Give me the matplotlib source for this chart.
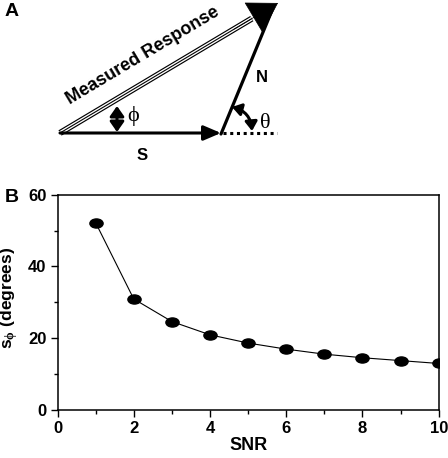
import matplotlib
matplotlib.use('Agg')
import matplotlib.pyplot as plt
from matplotlib.path import Path
from matplotlib.transforms import Affine2D
from matplotlib.ticker import MultipleLocator

plt.rcParams['font.family'] = ['Liberation Sans', 'DejaVu Sans']
plt.rcParams['font.weight'] = 'bold'
plt.rcParams['mathtext.fontset'] = 'custom'
plt.rcParams['mathtext.rm'] = 'Liberation Serif'
plt.rcParams['mathtext.it'] = 'Liberation Serif'

# panel B data
snr = [1, 2, 3, 4, 5, 6, 7, 8, 9, 10]
s_phi = [52.2, 30.9, 24.6, 20.9, 18.6, 16.9, 15.5, 14.5, 13.7, 12.9]
x_ticks = [0, 2, 4, 6, 8, 10]
y_ticks = [0, 20, 40, 60]

fig = plt.figure(figsize=(4.48, 4.58), dpi=100)

# ---- panel A: vector diagram, drawn in pixel-like coords ----
axa = fig.add_axes([0, 1 - 170 / 458, 1, 170 / 458])
axa.set_xlim(0, 448)
axa.set_ylim(170, 0)
axa.axis('off')

origin = (60, 133)
s_tip = (221, 133)
r_tip = (278, 3)

# S vector
axa.annotate('', xy=s_tip, xytext=origin,
             arrowprops=dict(arrowstyle='-|>,head_length=0.75,head_width=0.32',
                             lw=2.2, color='black', mutation_scale=14,
                             shrinkA=0, shrinkB=0))
# dotted continuation
axa.plot([223, 277], [133, 133], color='black', lw=2.2, ls=(0, (1, 1.2)),
         solid_capstyle='butt')
# N vector
axa.annotate('', xy=(273, 8), xytext=(221, 134),
             arrowprops=dict(arrowstyle='-', lw=2.3, color='black',
                             shrinkA=0, shrinkB=0))

# measured response: triple line + big head
dx, dy = r_tip[0] - origin[0], r_tip[1] - origin[1]
frac = 0.88
end = (origin[0] + dx * frac, origin[1] + dy * frac)
axa.plot([origin[0], end[0]], [origin[1], end[1]], color='black', lw=4.4,
         solid_capstyle='butt')
axa.plot([origin[0], end[0]], [origin[1], end[1]], color='white', lw=2.7,
         solid_capstyle='butt')
axa.plot([origin[0], end[0]], [origin[1], end[1]], color='black', lw=0.8,
         solid_capstyle='butt')
axa.annotate('', xy=r_tip, xytext=(origin[0] + dx * 0.8, origin[1] + dy * 0.8),
             arrowprops=dict(arrowstyle='-|>,head_length=0.9,head_width=0.55',
                             lw=0.5, color='black', mutation_scale=22,
                             shrinkA=0, shrinkB=0))

# phi double arrow
axa.annotate('', xy=(117, 106), xytext=(117, 132),
             arrowprops=dict(arrowstyle='<|-|>,head_length=0.5,head_width=0.35',
                             lw=2.2, color='black', mutation_scale=12,
                             shrinkA=0, shrinkB=0))
# theta curved double arrow
axa.annotate('', xy=(252, 131), xytext=(232, 107),
             arrowprops=dict(arrowstyle='<|-|>,head_length=0.45,head_width=0.3',
                             lw=2.2, color='black', mutation_scale=12,
                             shrinkA=0, shrinkB=0,
                             connectionstyle='arc3,rad=-0.35'))

axa.text(143, 56, 'Measured Response', fontsize=13, fontweight='bold',
         rotation=30.9, rotation_mode='anchor', ha='center', va='center')
axa.text(262, 78, 'N', fontsize=12, fontweight='bold', ha='center', va='center')
axa.text(142, 156, 'S', fontsize=12, fontweight='bold', ha='center', va='center')
axa.text(127, 116, '\u03d5', fontsize=16, family=['Liberation Serif', 'DejaVu Serif'],
         fontweight='normal', ha='left', va='center')
axa.text(260, 123, 'θ', fontsize=16, family='Liberation Serif',
         fontweight='normal', ha='left', va='center')
axa.text(5, 12, 'A', fontsize=14, fontweight='bold', ha='left', va='center')

# ---- panel B: s_phi vs SNR ----
axb = fig.add_axes([57.5 / 448, 48.3 / 458, 381.2 / 448, 215 / 458])
ellipse = Path.unit_circle().transformed(Affine2D().scale(1.45, 1.0))
axb.plot(snr, s_phi, color='black', lw=0.8, marker=ellipse, markersize=9.5,
         markerfacecolor='black', markeredgecolor='black')
axb.set_xlim(0, 10)
axb.set_ylim(0, 60)
axb.set_xticks(x_ticks)
axb.set_yticks(y_ticks)
axb.xaxis.set_minor_locator(MultipleLocator(1))
axb.yaxis.set_minor_locator(MultipleLocator(10))
axb.tick_params(which='both', direction='out', labelsize=12, width=1)
axb.tick_params(which='major', length=5, pad=3)
axb.tick_params(which='minor', length=3)
for lab in axb.get_xticklabels() + axb.get_yticklabels():
    lab.set_fontweight('bold')
for sp in axb.spines.values():
    sp.set_linewidth(1.1)
axb.set_xlabel('SNR', fontsize=13, fontweight='bold')
axb.xaxis.set_label_coords(0.5, -0.125)
axb.set_ylabel(r's$_{\phi}$ (degrees)', fontsize=12.5, fontweight='bold')
axb.yaxis.set_label_coords(-0.098, 0.52)
fig.text(5 / 448, 1 - 197 / 458, 'B', fontsize=14, fontweight='bold',
         ha='left', va='center')

fig.savefig('out.png', dpi=100)
